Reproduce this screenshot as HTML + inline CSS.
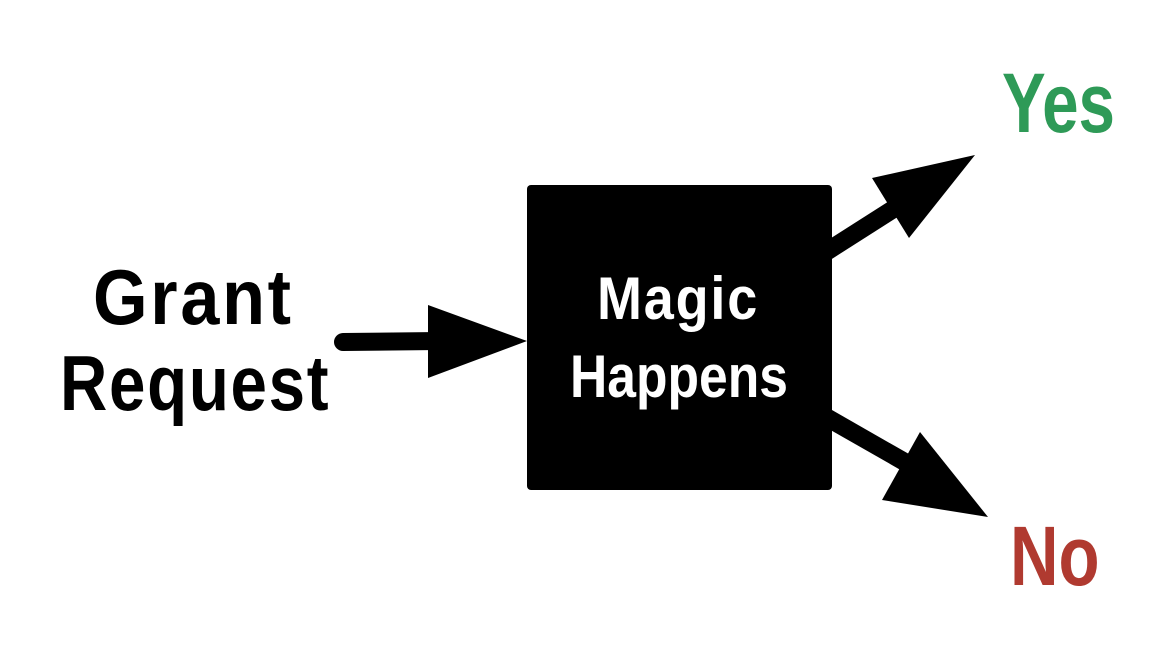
<!DOCTYPE html>
<html><head><style>
body{margin:0;background:#fff;width:1170px;height:662px;overflow:hidden;position:relative;font-family:"Liberation Sans",sans-serif;}
.t{position:absolute;font-weight:bold;white-space:nowrap;}
</style></head><body>
<svg width="1170" height="662" style="position:absolute;left:0;top:0">
<rect x="527" y="185" width="305" height="305" rx="4" fill="#000"/>
<line x1="343" y1="342" x2="440" y2="341" stroke="#000" stroke-width="18" stroke-linecap="round"/>
<polygon points="428,305 527,341 428,378" fill="#000"/>
<line x1="826" y1="252" x2="895" y2="208" stroke="#000" stroke-width="18"/>
<polygon points="872,178 975,155 909,238" fill="#000"/>
<line x1="826" y1="417" x2="910" y2="465" stroke="#000" stroke-width="18"/>
<polygon points="920,432 988,517 882,500" fill="#000"/>
</svg>
<div class="t" style="left:93px;top:252px;font-size:78px;letter-spacing:3px;transform:scaleX(0.9);transform-origin:left top;">Grant</div>
<div class="t" style="left:60px;top:338px;font-size:78px;letter-spacing:2px;transform:scaleX(0.84);transform-origin:left top;">Request</div>
<div class="t" style="left:597px;top:264px;font-size:60px;color:#fff;letter-spacing:2px;transform:scaleX(0.9);transform-origin:left top;">Magic</div>
<div class="t" style="left:570px;top:342px;font-size:60px;color:#fff;transform:scaleX(0.86);transform-origin:left top;">Happens</div>
<div class="t" style="left:1002px;top:55px;font-size:84px;color:#2e9a57;transform:scaleX(0.78);transform-origin:left top;">Yes</div>
<div class="t" style="left:1010px;top:508px;font-size:84px;color:#b03a30;transform:scaleX(0.8);transform-origin:left top;">No</div>
</body></html>
